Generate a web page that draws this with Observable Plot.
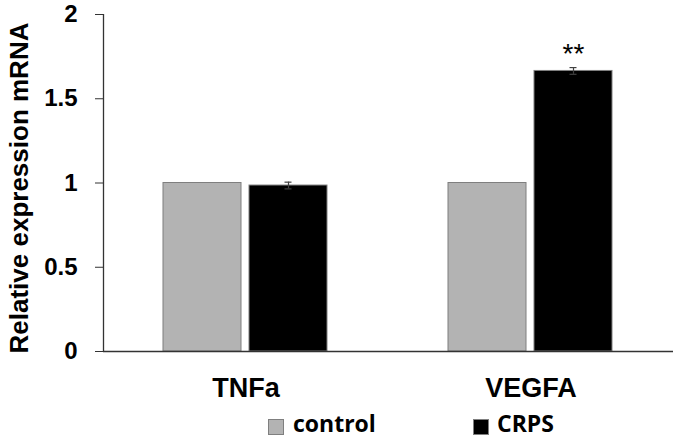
<!DOCTYPE html>
<html>
<head>
<meta charset="utf-8">
<script src="https://cdn.jsdelivr.net/npm/d3@7"></script>
<script src="https://cdn.jsdelivr.net/npm/@observablehq/plot@0.6"></script>
<style>
  html, body { margin: 0; padding: 0; background: #fff; }
  #wrap { position: relative; width: 675px; height: 439px; overflow: hidden; }
  #legend { position: absolute; left: 0; top: 405px; width: 675px; height: 34px; }
  .sw { position: absolute; top: 14px; width: 16px; height: 16px; box-sizing: border-box; border: 1px solid #7f7f7f; }
  .lab { position: absolute; top: 7px; font-family: "Open Sans", Lato, sans-serif; font-weight: bold; font-size: 23px; line-height: 22px; color: #000; white-space: nowrap; }
</style>
</head>
<body>
<div id="wrap"><div id="chart"></div><div id="legend"></div></div>
<script>
const genes = ["TNFa", "VEGFA"];
const groups = ["control", "CRPS"];
const controlValues = [1, 1];
const crpsValues = [0.985, 1.665];
const controlErrors = [0, 0];
const crpsErrors = [0.02, 0.02];
const significance = ["", "**"];
const yTicks = [0, 0.5, 1, 1.5, 2];
const groupColors = ["#b3b3b3", "#000000"];
const yLabel = "Relative expression mRNA";

const data = genes.flatMap((g, i) => [
  {gene: g, group: groups[0], value: controlValues[i], err: controlErrors[i], sig: ""},
  {gene: g, group: groups[1], value: crpsValues[i], err: crpsErrors[i], sig: significance[i]}
]);
const errData = data.filter(d => d.err > 0);
const sigData = data.filter(d => d.sig);

const plot = Plot.plot({
  width: 675,
  height: 405,
  marginLeft: 103,
  marginRight: 2,
  marginTop: 14,
  marginBottom: 54,
  style: {fontFamily: "'Liberation Sans', Arial, sans-serif", color: "#000", background: "#fff", overflow: "visible"},
  fx: {domain: genes, padding: 0, label: null},
  x: {domain: groups, paddingInner: 0.092, paddingOuter: 0.684, axis: null},
  y: {domain: [0, 2], axis: null},
  color: {domain: groups, range: groupColors},
  marks: [
    Plot.barY(data, {fx: "gene", x: "group", y: "value", fill: "group", stroke: "#7f7f7f", strokeWidth: 1}),
    Plot.ruleX(errData, {fx: "gene", x: "group", y1: d => d.value - d.err, y2: d => d.value + d.err, stroke: "#404040", strokeWidth: 1.2}),
    Plot.tickY(errData, {fx: "gene", x: "group", y: d => d.value + d.err, stroke: "#404040", strokeWidth: 1.2, insetLeft: 35.5, insetRight: 35.5}),
    Plot.tickY(errData, {fx: "gene", x: "group", y: d => d.value - d.err, stroke: "#404040", strokeWidth: 1.2, insetLeft: 35.5, insetRight: 35.5}),
    Plot.text(sigData, {fx: "gene", x: "group", y: d => d.value + d.err, text: "sig", dy: -14, fontSize: 28, fill: "#000"}),
    Plot.ruleY([0], {stroke: "#333", strokeWidth: 1.3}),
    Plot.axisY({ticks: yTicks, tickSize: 8, tickPadding: 18, fontSize: 24, fontWeight: "bold", label: null, tickFormat: d => String(d), stroke: "#333"}),
    Plot.axisFx({anchor: "bottom", tickSize: 0, tickPadding: 26, fontSize: 27, fontWeight: "bold", label: null}),
    Plot.text([{gene: genes[0], label: yLabel}], {fx: "gene", text: "label", frameAnchor: "left", textAnchor: "middle", rotate: -90, dx: -84, dy: 5, fontSize: 26, fontWeight: "bold", fill: "#000"})
  ]
});

// y-axis line along the left edge of the frame, from the y scale's range
const ys = plot.scale("y");
d3.select(plot).append("line")
  .attr("x1", 103.5).attr("x2", 103.5)
  .attr("y1", ys.range[0]).attr("y2", ys.range[1])
  .attr("stroke", "#333").attr("stroke-width", 1.3);

document.getElementById("chart").appendChild(plot);

const legend = document.getElementById("legend");
const swX = [268, 473];
const labX = [293, 497];
groups.forEach((g, i) => {
  const sw = document.createElement("div");
  sw.className = "sw";
  sw.style.left = swX[i] + "px";
  sw.style.background = groupColors[i];
  legend.appendChild(sw);
  const lab = document.createElement("div");
  lab.className = "lab";
  lab.style.left = labX[i] + "px";
  lab.textContent = g;
  legend.appendChild(lab);
});
</script>
</body>
</html>
